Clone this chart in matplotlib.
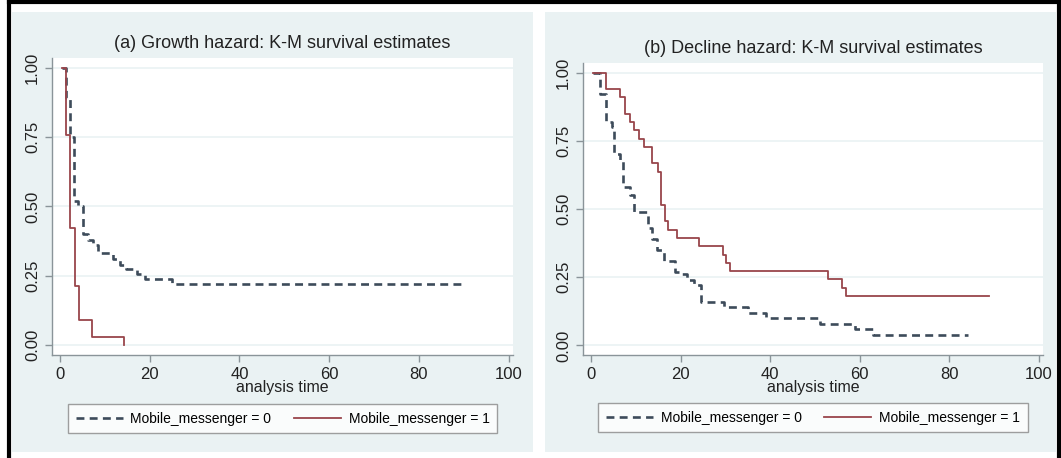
import numpy as np
import matplotlib.pyplot as plt
from matplotlib.patches import Rectangle
from matplotlib.lines import Line2D

plt.rcParams['font.family'] = ['Liberation Sans', 'DejaVu Sans']

# (a) growth hazard, K-M step points (time where the step starts, survival from there on)
growth_t0 = [0.5, 1.4, 2.2, 3.1, 4.0, 5.1, 6.2, 7.4, 8.5, 11.8, 13.3, 14.8, 17.2, 19.0, 25.0, 90.5]
growth_s0 = [1.0, 0.89, 0.75, 0.52, 0.50, 0.40, 0.38, 0.36, 0.333, 0.31, 0.29, 0.275, 0.258, 0.24, 0.222, 0.222]
growth_t1 = [0.5, 1.4, 2.3, 3.3, 4.3, 7.2, 14.2]
growth_s1 = [1.0, 0.758, 0.424, 0.212, 0.091, 0.030, 0.0]

# (b) decline hazard
decline_t0 = [0.5, 2.0, 3.4, 4.6, 5.1, 6.5, 7.2, 8.6, 9.5, 12.7, 13.6, 14.8, 16.3, 18.7, 20.0,
              21.5, 23.0, 24.5, 29.7, 35.0, 39.0, 51.1, 59.0, 63.1, 84.2]
decline_s0 = [1.0, 0.92, 0.82, 0.80, 0.70, 0.68, 0.58, 0.55, 0.49, 0.43, 0.39, 0.35, 0.31, 0.27, 0.26,
              0.24, 0.22, 0.16, 0.14, 0.12, 0.10, 0.08, 0.06, 0.04, 0.04]
decline_t1 = [0.5, 3.3, 6.5, 7.5, 8.6, 9.7, 10.7, 11.8, 13.6, 15.0, 15.7, 16.5, 17.2, 19.3, 24.1,
              29.4, 30.1, 31.1, 53.0, 56.0, 57.0, 89.0]
decline_s1 = [1.0, 0.939, 0.909, 0.848, 0.818, 0.788, 0.758, 0.727, 0.667, 0.636, 0.515, 0.455, 0.424,
              0.394, 0.364, 0.333, 0.303, 0.273, 0.242, 0.212, 0.182, 0.182]

titles = ["(a) Growth hazard: K-M survival estimates", "(b) Decline hazard: K-M survival estimates"]
labels = ["Mobile_messenger = 0", "Mobile_messenger = 1"]

BG = "#eaf2f3"
C0 = "#3d4b5a"
C1 = "#99454b"
AX = "#8a9499"

W, H = 1061, 458
fig = plt.figure(figsize=(W / 100, H / 100), dpi=100)


def px_rect(x0, y0, x1, y1):
    # pixel box (top-left origin) -> figure fraction [l, b, w, h]
    return [x0 / W, 1 - y1 / H, (x1 - x0) / W, (y1 - y0) / H]


# panel backgrounds
for x0, x1 in [(12, 533), (545, 1056)]:
    l, b, w, h = px_rect(x0, 12, x1, 452)
    fig.patches.append(Rectangle((l, b), w, h, transform=fig.transFigure, facecolor=BG,
                                 edgecolor="none", zorder=-5))

# black frame (left, top, right)
for xs, ys in [([9 / W, 9 / W], [0, 1 - 1.5 / H]), ([9 / W, 1 - 2 / W], [1 - 1.5 / H, 1 - 1.5 / H]),
               ([1 - 2 / W, 1 - 2 / W], [0, 1 - 1.5 / H])]:
    fig.add_artist(Line2D(xs, ys, transform=fig.transFigure, color="black", lw=3, zorder=-4))

ax_a = fig.add_axes(px_rect(52, 58, 513, 355))
ax_b = fig.add_axes(px_rect(583, 63, 1043, 355))

panels = [
    (ax_a, titles[0], growth_t0, growth_s0, growth_t1, growth_s1),
    (ax_b, titles[1], decline_t0, decline_s0, decline_t1, decline_s1),
]

for ax, title, t0, s0, t1, s1 in panels:
    ax.set_zorder(2)
    ax.set_facecolor("white")
    ax.step(t0, s0, where="post", color=C0, lw=1.9, dashes=(3.0, 2.0), label=labels[0], zorder=3)
    ax.step(t1, s1, where="post", color=C1, lw=1.3, label=labels[1], zorder=4)

    ax.set_xlim(-1.8, 101)
    ax.set_ylim(-0.035, 1.035)
    ax.set_xticks(np.arange(0, 101, 20))
    ax.set_yticks([0, 0.25, 0.5, 0.75, 1.0])
    ax.set_yticklabels(["0.00", "0.25", "0.50", "0.75", "1.00"], rotation=90, va="center")
    ax.yaxis.grid(True, color=BG, lw=1.2)
    ax.set_axisbelow(True)
    for side in ["top", "right"]:
        ax.spines[side].set_visible(False)
    for side in ["left", "bottom"]:
        ax.spines[side].set_color(AX)
        ax.spines[side].set_linewidth(1.0)
    ax.tick_params(colors=AX, labelcolor="#222222", labelsize=12, length=5, width=1)
    ax.set_xlabel("analysis time", fontsize=11.5, color="#222222", labelpad=-1)
    ax.set_title(title, fontsize=13, color="#222222", pad=7)

    leg = ax.legend(loc="center", bbox_to_anchor=(0.5, -0.215), ncol=2, frameon=True, fancybox=False,
                    fontsize=10, handlelength=3.4, columnspacing=1.6, borderpad=0.55,
                    handletextpad=0.55, borderaxespad=0)
    leg.get_frame().set_edgecolor("#888888")
    leg.get_frame().set_linewidth(1.0)

fig.savefig("out.png", dpi=100, facecolor="white")
